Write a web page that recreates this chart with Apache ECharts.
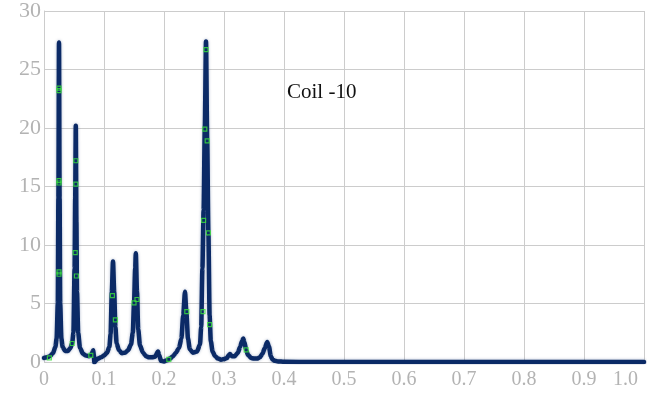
<!DOCTYPE html>
<html>
<head>
<meta charset="utf-8">
<script src="https://cdn.jsdelivr.net/npm/echarts@6/dist/echarts.min.js"></script>
<style>
  html, body { margin: 0; padding: 0; background: #ffffff; }
  #chart { width: 658px; height: 396px; }
</style>
</head>
<body>
<div id="chart"></div>
<script>
// curve
const curveX = [
  0.000, 0.005, 0.010, 0.015, 0.019, 0.021, 0.023, 0.024, 0.025, 0.026, 0.027, 0.029, 0.031, 0.035,
  0.040, 0.044, 0.047, 0.049, 0.051, 0.052, 0.053, 0.054, 0.055, 0.057, 0.060, 0.065, 0.070, 0.075,
  0.078, 0.080, 0.082, 0.083, 0.084, 0.086, 0.090, 0.095, 0.100, 0.105, 0.109, 0.111, 0.113, 0.115,
  0.117, 0.119, 0.121, 0.125, 0.130, 0.135, 0.140, 0.145, 0.148, 0.150, 0.152, 0.153, 0.155, 0.157,
  0.160, 0.165, 0.170, 0.175, 0.180, 0.185, 0.190, 0.192, 0.195, 0.200, 0.205, 0.210, 0.215, 0.220,
  0.225, 0.229, 0.232, 0.235, 0.237, 0.240, 0.243, 0.248, 0.255, 0.260, 0.262, 0.264, 0.266, 0.268,
  0.270, 0.272, 0.274, 0.276, 0.278, 0.281, 0.285, 0.290, 0.295, 0.300, 0.305, 0.308, 0.310, 0.313,
  0.318, 0.323, 0.327, 0.330, 0.332, 0.334, 0.337, 0.340, 0.345, 0.350, 0.355, 0.360, 0.364, 0.368,
  0.372, 0.375, 0.378, 0.381, 0.385, 0.390, 0.400, 0.450, 0.500, 0.600, 0.700, 0.800, 0.900, 1.000
];
const curveY = [
  0.35, 0.40, 0.50, 0.75, 1.3, 2.0, 5, 14, 27.3, 14, 5, 2.0, 1.3, 0.95,
  0.95, 1.2, 1.6, 2.5, 8, 14, 20.2, 12, 6, 2.5, 1.2, 0.7, 0.55, 0.5,
  0.55, 0.8, 1.0, 0.6, -0.05, 0.1, 0.3, 0.4, 0.55, 0.8, 1.3, 2.4, 6, 8.6,
  6, 3.0, 1.6, 1.0, 0.75, 0.8, 1.0, 1.5, 2.5, 5, 8, 9.3, 6, 2.8,
  1.4, 0.8, 0.5, 0.4, 0.4, 0.45, 0.9, 0.6, 0.1, 0.05, 0.15, 0.3, 0.5, 0.8,
  1.2, 2.0, 4, 6.0, 4.5, 2.0, 1.1, 0.8, 0.9, 1.5, 3, 8, 13, 20,
  27.4, 19, 11, 4, 1.8, 0.9, 0.5, 0.3, 0.2, 0.25, 0.35, 0.6, 0.68, 0.5,
  0.5, 0.8, 1.3, 1.8, 2.0, 1.7, 1.0, 0.6, 0.35, 0.3, 0.3, 0.4, 0.7, 1.2,
  1.7, 1.3, 0.5, 0.2, 0.1, 0.05, 0.02, 0, 0, 0, 0, 0, 0, 0
];

// green sample markers
const markerX = [0.009, 0.025, 0.025, 0.025, 0.025, 0.025, 0.025, 0.047, 0.052, 0.053, 0.053, 0.054,
  0.078, 0.114, 0.119, 0.150, 0.155, 0.208, 0.238, 0.265, 0.266, 0.268, 0.270, 0.272, 0.274, 0.276, 0.337];
const markerY = [0.36, 23.4, 23.2, 15.5, 15.3, 7.7, 7.5, 1.58, 9.35, 17.2, 15.2, 7.35,
  0.57, 5.68, 3.6, 5.06, 5.34, 0.23, 4.3, 4.3, 12.1, 19.9, 26.7, 18.9, 11.04, 3.2, 1.04];

const xTicks = [0, 0.1, 0.2, 0.3, 0.4, 0.5, 0.6, 0.7, 0.8, 0.9, 1.0];
const yTicks = [0, 5, 10, 15, 20, 25, 30];
const chartLabel = 'Coil -10';

const labelFont = 'Liberation Serif';
const gridColor = '#cccccc';

const chart = echarts.init(document.getElementById('chart'));

chart.setOption({
  animation: false,
  title: {
    text: chartLabel,
    left: 287,
    top: 82,
    padding: 0,
    textStyle: { fontFamily: labelFont, fontSize: 21, fontWeight: 'normal', color: '#111111' }
  },
  grid: { left: 44, right: 14, top: 8, bottom: 34, containLabel: false },
  xAxis: {
    type: 'value',
    min: xTicks[0],
    max: xTicks[xTicks.length - 1],
    interval: 0.1,
    axisLine: { show: false },
    axisTick: { show: false },
    axisLabel: {
      color: '#b3b3b3',
      fontFamily: labelFont,
      fontSize: 20,
      margin: 8,
      alignMaxLabel: 'right',
      formatter: v => (v === 0 ? '0' : v >= 1 ? '{last|1.0}' : v.toFixed(1)),
      rich: {
        last: { color: '#b3b3b3', fontFamily: labelFont, fontSize: 20, padding: [0, 6, 0, 0] }
      }
    },
    splitLine: { show: true, lineStyle: { color: gridColor, width: 1 } }
  },
  yAxis: {
    type: 'value',
    min: yTicks[0],
    max: yTicks[yTicks.length - 1],
    interval: 5,
    axisLine: { show: true, lineStyle: { color: gridColor, width: 1 } },
    axisTick: { show: false },
    axisLabel: {
      color: '#b3b3b3',
      fontFamily: labelFont,
      fontSize: 22,
      margin: 3
    },
    splitLine: { show: true, lineStyle: { color: gridColor, width: 1 } }
  },
  series: [
    {
      type: 'line',
      data: curveX.map((x, i) => [x, curveY[i]]),
      showSymbol: false,
      smooth: 0.25,
      smoothMonotone: 'x',
      lineStyle: {
        color: '#0b2a66',
        width: 4.5,
        cap: 'round',
        join: 'round',
        shadowColor: 'rgba(11,42,102,0.35)',
        shadowBlur: 3
      },
      z: 2
    },
    {
      type: 'scatter',
      data: markerX.map((x, i) => [x, markerY[i]]),
      symbol: 'rect',
      symbolSize: 4,
      itemStyle: { color: 'rgba(0,0,0,0)', borderColor: '#3be33b', borderWidth: 1.2 },
      z: 3
    }
  ]
});
</script>
</body>
</html>
